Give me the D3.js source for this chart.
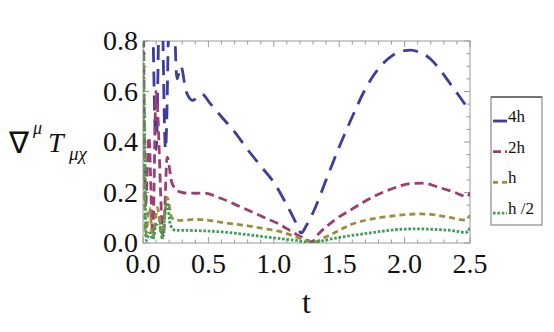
<!DOCTYPE html>
<html>
<head>
<meta charset="utf-8">
<script src="https://cdn.jsdelivr.net/npm/d3@7"></script>
</head>
<body style="margin:0">
<svg id="chart" width="554" height="332"></svg>
<script>
// ---- data ----
const xTicks = [0, 0.5, 1.0, 1.5, 2.0, 2.5];
const yTicks = [0, 0.2, 0.4, 0.6, 0.8];
const legendLabels = ["4h", "2h", "h", "h/2"];

const t4h = [0, 0.07, 0.1, 0.135, 0.172, 0.215, 0.26, 0.29, 0.33, 0.38, 0.45, 0.51, 0.6, 0.7, 0.8, 0.9, 1.0, 1.1, 1.16, 1.21, 1.25, 1.3, 1.4, 1.5, 1.6, 1.7, 1.8, 1.9, 2.0, 2.05, 2.1, 2.2, 2.28, 2.35, 2.42, 2.5];
const v4h = [2.2, 1.0, 0.37, 1.2, 0.37, 1.3, 0.65, 0.70, 0.6, 0.565, 0.59, 0.555, 0.5, 0.44, 0.37, 0.305, 0.24, 0.15, 0.09, 0.04, 0.07, 0.12, 0.25, 0.38, 0.5, 0.61, 0.69, 0.74, 0.762, 0.764, 0.758, 0.728, 0.68, 0.63, 0.58, 0.52];

const t2h = [0, 0.02, 0.045, 0.075, 0.1, 0.155, 0.185, 0.22, 0.27, 0.32, 0.4, 0.46, 0.594, 0.716, 0.83, 0.94, 1.04, 1.15, 1.24, 1.29, 1.34, 1.45, 1.6, 1.76, 1.915, 2.05, 2.15, 2.245, 2.37, 2.48, 2.5];
const v2h = [1.2, 0.15, 0.42, 0.03, 0.6, 0.02, 0.34, 0.24, 0.205, 0.198, 0.197, 0.198, 0.177, 0.15, 0.124, 0.098, 0.075, 0.041, 0.016, 0.005, 0.035, 0.085, 0.135, 0.183, 0.217, 0.236, 0.237, 0.223, 0.203, 0.184, 0.2];

const th = [0, 0.02, 0.05, 0.075, 0.11, 0.145, 0.185, 0.22, 0.26, 0.3, 0.4, 0.5, 0.65, 0.8, 0.95, 1.05, 1.15, 1.25, 1.3, 1.4, 1.5, 1.58, 1.71, 1.86, 2.0, 2.1, 2.2, 2.32, 2.47, 2.5];
const vh = [0.75, 0.03, 0.14, 0.02, 0.14, 0.02, 0.18, 0.1, 0.09, 0.09, 0.094, 0.09, 0.078, 0.068, 0.055, 0.045, 0.028, 0.01, 0.002, 0.025, 0.05, 0.071, 0.091, 0.104, 0.112, 0.115, 0.113, 0.104, 0.091, 0.11];

const thalf = [0, 0.01, 0.025, 0.05, 0.075, 0.1, 0.125, 0.15, 0.165, 0.185, 0.21, 0.25, 0.3, 0.41, 0.6, 0.8, 0.92, 1.05, 1.175, 1.29, 1.35, 1.455, 1.6, 1.71, 1.85, 1.965, 2.1, 2.22, 2.35, 2.47, 2.5];
const vhalf = [0.8, 0.5, 0.01, 0.04, 0.015, 0.07, 0.08, 0.02, 0.1, 0.16, 0.07, 0.05, 0.05, 0.049, 0.044, 0.033, 0.025, 0.017, 0.01, 0.001, 0.006, 0.018, 0.03, 0.038, 0.048, 0.054, 0.056, 0.054, 0.05, 0.042, 0.06];

const series = [
    { name: legendLabels[0], t: t4h,   v: v4h,   color: "#3d3d9e", dash: "15,9" },
    { name: legendLabels[1], t: t2h,   v: v2h,   color: "#9e3d74", dash: "9,5" },
    { name: legendLabels[2], t: th,    v: vh,    color: "#9e8d3d", dash: "6,4" },
    { name: legendLabels[3], t: thalf, v: vhalf, color: "#3d9e55", dash: "2.6,1.8" }
];

// ---- layout ----
const L = 143, R = 470, T = 41, B = 243;
const SERIF = "'Liberation Serif'";
const svg = d3.select("#chart");
const x = d3.scaleLinear().domain([0, 2.5]).range([L, R]);
const y = d3.scaleLinear().domain([0, 0.8]).range([B, T]);

// place a text by measuring it, anchor = 0 (start), 0.5 (middle), 1 (end)
function PlaceText(parent, str, px, py, size, anchor, italic) {
    const t = parent.append("text").attr("x", px).attr("y", py)
        .attr("font-family", SERIF).attr("font-size", size).attr("fill", "#111")
        .attr("text-anchor", "start").text(str);
    if (italic) t.attr("font-style", "italic");
    const w = t.node().getComputedTextLength();
    t.attr("x", px - anchor * w);
    return t;
}

svg.append("defs").append("clipPath").attr("id", "plotclip")
   .append("rect").attr("x", L).attr("y", T).attr("width", R - L).attr("height", B - T);

// frame + ticks on all sides (inward)
const frameCol = "#9a9a9a";
const gF = svg.append("g");
const xMinor = d3.range(0, 2.5001, 0.1);
const yMinor = d3.range(0, 0.8001, 0.05);
xMinor.forEach(v => {
    const major = xTicks.some(m => Math.abs(m - v) < 1e-6);
    const len = major ? 6 : 3.5;
    gF.append("line").attr("x1", x(v)).attr("x2", x(v)).attr("y1", B).attr("y2", B - len).attr("stroke", frameCol);
    gF.append("line").attr("x1", x(v)).attr("x2", x(v)).attr("y1", T).attr("y2", T + len).attr("stroke", frameCol);
});
yMinor.forEach(v => {
    const major = yTicks.some(m => Math.abs(m - v) < 1e-6);
    const len = major ? 6 : 3.5;
    gF.append("line").attr("y1", y(v)).attr("y2", y(v)).attr("x1", L).attr("x2", L + len).attr("stroke", frameCol);
    gF.append("line").attr("y1", y(v)).attr("y2", y(v)).attr("x1", R).attr("x2", R - len).attr("stroke", frameCol);
});
gF.append("rect").attr("x", L).attr("y", T).attr("width", R - L).attr("height", B - T)
  .attr("fill", "none").attr("stroke", frameCol).attr("stroke-width", 1);

// tick labels
xTicks.forEach(v => PlaceText(svg, d3.format(".1f")(v), x(v), 273, 28, 0.5));
yTicks.forEach(v => PlaceText(svg, d3.format(".1f")(v), 138, y(v) + 9, 28, 1));

// axis labels
PlaceText(svg, "t", (L + R) / 2, 313, 32, 0.5);

PlaceText(svg, "∇", 9, 153, 30, 0);
PlaceText(svg, "μ", 33, 134, 18, 0, true);
PlaceText(svg, "T", 48, 152, 28, 0, true);
PlaceText(svg, "μχ", 69, 160, 19, 0, true);

// curves
const line = d3.line().x(d => x(d[0])).y(d => y(d[1])).curve(d3.curveMonotoneX);
const gC = svg.append("g").attr("clip-path", "url(#plotclip)");
series.forEach(s => {
    gC.append("path")
      .datum(s.t.map((t, i) => [t, s.v[i]]))
      .attr("d", line)
      .attr("fill", "none")
      .attr("stroke", s.color)
      .attr("stroke-width", 2.8)
      .attr("stroke-dasharray", s.dash);
});

// legend
const gL = svg.append("g");
gL.append("rect").attr("x", 491).attr("y", 97).attr("width", 51).attr("height", 128)
  .attr("fill", "#fff").attr("stroke", "#8a8a8a").attr("stroke-width", 1.2);
gL.append("line").attr("x1", 491).attr("x2", 542).attr("y1", 97).attr("y2", 97).attr("stroke", "#333").attr("stroke-width", 1.2);
series.forEach((s, i) => {
    const yy = 121 + i * 30.7;
    gL.append("line").attr("x1", 493).attr("x2", 507).attr("y1", yy).attr("y2", yy)
      .attr("stroke", s.color).attr("stroke-width", 2.8)
      .attr("stroke-dasharray", i === 1 ? "8,4" : i === 2 ? "5,4" : s.dash);
    PlaceText(gL, s.name === "h/2" ? "h /2" : s.name, 508, yy + 1, 17, 0);
});
</script>
</body>
</html>
